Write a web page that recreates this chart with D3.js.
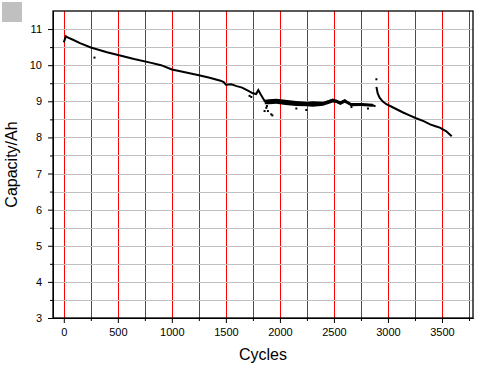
<!DOCTYPE html>
<html>
<head>
<meta charset="utf-8">
<script src="https://cdn.jsdelivr.net/npm/d3@7/dist/d3.min.js"></script>
<style>
  body { margin: 0; background: #fff; }
  text { font-family: "Liberation Sans", Arial, sans-serif; fill: #000; }
</style>
</head>
<body>
<div class="chart"></div>
<script>
// capacity trend
var cycles = [0, 10, 20, 40, 80, 150, 250, 400, 530, 650, 800, 900, 1000, 1100, 1250, 1350, 1450, 1480,
  1500, 1550, 1600, 1650, 1700, 1750, 1780, 1800, 1820, 1860, 1900, 2000, 2100, 2200, 2300, 2400,
  2490, 2550, 2600, 2660, 2750, 2860, 2885];
var capacity = [10.63, 10.72, 10.80, 10.76, 10.71, 10.61, 10.49, 10.36, 10.26, 10.17, 10.07, 10.0, 9.88, 9.82, 9.72, 9.65, 9.57, 9.53,
  9.46, 9.47, 9.42, 9.38, 9.30, 9.22, 9.20, 9.31, 9.20, 9.00, 8.99, 8.99, 8.96, 8.93, 8.91, 8.94,
  9.05, 8.95, 9.03, 8.90, 8.91, 8.89, 8.86];

var cycles2 = [2893, 2905, 2923, 2950, 2985, 3020, 3080, 3140, 3200, 3260, 3330, 3390, 3440, 3480, 3540, 3590];
var capacity2 = [9.40, 9.22, 9.10, 9.00, 8.92, 8.87, 8.78, 8.69, 8.61, 8.53, 8.45, 8.36, 8.31, 8.27, 8.17, 8.03];

var bandCycles = [1860, 1900, 1966, 2050, 2150, 2250, 2305, 2400, 2490, 2522, 2560, 2600, 2660, 2750, 2860];
var bandHigh = [9.04, 9.06, 9.07, 9.04, 9.01, 8.99, 9.00, 8.99, 9.07, 9.05, 9.00, 9.05, 8.95, 8.95, 8.93];
var bandLow = [8.92, 8.92, 8.93, 8.90, 8.87, 8.86, 8.85, 8.88, 8.97, 8.95, 8.90, 8.96, 8.86, 8.87, 8.85];

var outCycles = [284, 1719, 1735, 1858, 1874, 1880, 1889, 1920, 1930, 2152, 2244, 2662, 2815, 2893];
var outCap = [10.21, 9.15, 9.12, 8.73, 8.82, 8.87, 8.73, 8.64, 8.61, 8.80, 8.76, 8.84, 8.80, 9.61];

var xMajor = [0, 500, 1000, 1500, 2000, 2500, 3000, 3500];
var yMajor = [3, 4, 5, 6, 7, 8, 9, 10, 11];

var width = 482, height = 369;
var margin = {left: 53, right: 9, top: 11, bottom: 51};
var innerW = width - margin.left - margin.right;
var innerH = height - margin.top - margin.bottom;

var svg = d3.select('div.chart')
    .append('svg')
    .attr('width', width)
    .attr('height', height);

var x = d3.scaleLinear().domain([-100, 3787]).range([margin.left, width - margin.right]);
var y = d3.scaleLinear().domain([3, 11.5]).range([height - margin.bottom, margin.top]);

// grid (test colours)
var gridG = svg.append('g');
gridG.selectAll('line.gv')
    .data(d3.range(0, 3751, 250)).enter().append('line')
    .attr('class', 'gv')
    .attr('x1', d => Math.round(x(d)) + 0.5).attr('x2', d => Math.round(x(d)) + 0.5)
    .attr('y1', margin.top).attr('y2', margin.top + innerH)
    .attr('stroke', 'red');
gridG.selectAll('line.gh')
    .data(d3.range(3.5, 11.01, 0.5)).enter().append('line')
    .attr('class', 'gh')
    .attr('y1', d => Math.round(y(d)) + 0.5).attr('y2', d => Math.round(y(d)) + 0.5)
    .attr('x1', margin.left).attr('x2', margin.left + innerW)
    .attr('stroke', '#c0c0c0');
svg.append('rect').attr('x', 2).attr('y', 2).attr('width', 20).attr('height', 20).attr('fill', '#c0c0c0');

// axes
var axes = svg.append('g');
axes.append('g')
    .attr('transform', 'translate(0,' + (height - margin.bottom) + ')')
    .call(d3.axisBottom(x).tickValues(xMajor).tickSize(5).tickSizeOuter(0).tickPadding(5).tickFormat(d3.format('d')));
axes.append('g')
    .attr('transform', 'translate(0,' + (height - margin.bottom) + ')')
    .call(d3.axisBottom(x).tickValues(d3.range(250, 3751, 500)).tickSize(3).tickFormat('').tickSizeOuter(0));
axes.append('g')
    .attr('transform', 'translate(' + margin.left + ',0)')
    .call(d3.axisLeft(y).tickValues(yMajor).tickSize(5).tickSizeOuter(0).tickPadding(6));
axes.append('g')
    .attr('transform', 'translate(' + margin.left + ',0)')
    .call(d3.axisLeft(y).tickValues(d3.range(3.5, 11.01, 1)).tickSize(3).tickFormat('').tickSizeOuter(0));

axes.selectAll('.tick text').style('font-size', '11px');
axes.selectAll('.domain, .tick line').attr('stroke', '#000');

// frame
svg.append('rect')
    .attr('x', x(-100)).attr('y', y(11.5))
    .attr('width', innerW).attr('height', innerH)
    .attr('fill', 'none').attr('stroke', '#000').attr('stroke-width', 1.3);

// data
var line = d3.line().x(d => x(d[0])).y(d => y(d[1]));
svg.append('path')
    .attr('d', line(d3.zip(cycles, capacity)))
    .attr('fill', 'none').attr('stroke', '#000').attr('stroke-width', 2);
svg.append('path')
    .attr('d', line(d3.zip(cycles2, capacity2)))
    .attr('fill', 'none').attr('stroke', '#000').attr('stroke-width', 2);

var area = d3.area().x(d => x(d[0])).y0(d => y(d[1])).y1(d => y(d[2]));
svg.append('path')
    .attr('d', area(d3.zip(bandCycles, bandLow, bandHigh)))
    .attr('fill', '#000');

svg.append('g').selectAll('rect')
    .data(d3.zip(outCycles, outCap)).enter().append('rect')
    .attr('x', d => x(d[0]) - 1).attr('y', d => y(d[1]) - 1)
    .attr('width', 2).attr('height', 2)
    .attr('fill', '#000');

// titles
svg.append('text')
    .attr('x', margin.left + innerW / 2).attr('y', 360)
    .attr('text-anchor', 'middle')
    .style('font-size', '16px')
    .text('Cycles');
svg.append('text')
    .attr('transform', 'translate(17,' + (margin.top + innerH / 2) + ') rotate(-90)')
    .attr('text-anchor', 'middle')
    .style('font-size', '16px')
    .text('Capacity/Ah');
</script>
</body>
</html>
